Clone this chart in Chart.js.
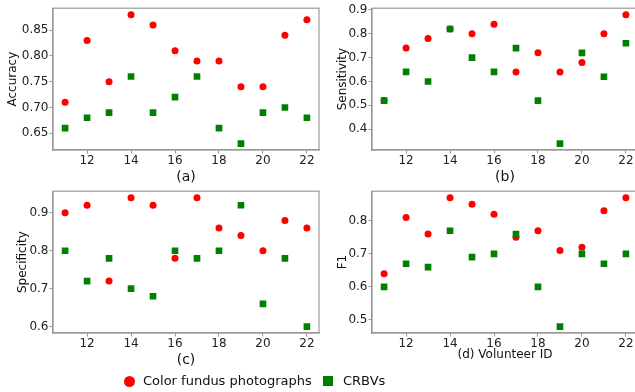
<!DOCTYPE html>
<html>
<head>
<meta charset="utf-8">
<script src="https://cdn.jsdelivr.net/npm/chart.js@4"></script>
<style>
  html, body { margin: 0; padding: 0; background: #fff; overflow: hidden; width: 635px; height: 392px; }
  canvas { position: absolute; }
  #legend { position: absolute; left: 0; top: 372px; width: 635px; height: 18px;
            font-family: "DejaVu Sans", sans-serif; font-size: 13px; color: #111; }
  #legend span { position: absolute; top: 0; line-height: 18px; white-space: nowrap; }
  .dot { width: 11px; height: 11px; border-radius: 50%; background: #ff0000; margin-top: 3.5px; }
  .sq { width: 10px; height: 10px; background: #008000; margin-top: 4px; }
</style>
</head>
<body>
<canvas id="pa" width="330" height="190" style="left:0;top:0"></canvas>
<canvas id="pb" width="330" height="190" style="left:319px;top:0"></canvas>
<canvas id="pc" width="330" height="190" style="left:0;top:183px"></canvas>
<canvas id="pd" width="330" height="190" style="left:319px;top:183px"></canvas>
<div id="legend">
  <span class="dot" style="left:123.5px"></span>
  <span style="left:143px">Color fundus photographs</span>
  <span class="sq" style="left:323px"></span>
  <span style="left:343px">CRBVs</span>
</div>
<script>
// volunteer ids (x axis)
const volunteerIds = [11, 12, 13, 14, 15, 16, 17, 18, 19, 20, 21, 22];

// (a) accuracy
const accuracyFundus = [0.71, 0.83, 0.75, 0.88, 0.86, 0.81, 0.79, 0.79, 0.74, 0.74, 0.84, 0.87];
const accuracyCrbv   = [0.66, 0.68, 0.69, 0.76, 0.69, 0.72, 0.76, 0.66, 0.63, 0.69, 0.70, 0.68];
// (b) sensitivity
const sensitivityFundus = [0.52, 0.74, 0.78, 0.82, 0.80, 0.84, 0.64, 0.72, 0.64, 0.68, 0.80, 0.88];
const sensitivityCrbv   = [0.52, 0.64, 0.60, 0.82, 0.70, 0.64, 0.74, 0.52, 0.34, 0.72, 0.62, 0.76];
// (c) specificity
const specificityFundus = [0.90, 0.92, 0.72, 0.94, 0.92, 0.78, 0.94, 0.86, 0.84, 0.80, 0.88, 0.86];
const specificityCrbv   = [0.80, 0.72, 0.78, 0.70, 0.68, 0.80, 0.78, 0.80, 0.92, 0.66, 0.78, 0.60];
// (d) F1
const f1Fundus = [0.64, 0.81, 0.76, 0.87, 0.85, 0.82, 0.75, 0.77, 0.71, 0.72, 0.83, 0.87];
const f1Crbv   = [0.60, 0.67, 0.66, 0.77, 0.69, 0.70, 0.76, 0.60, 0.48, 0.70, 0.67, 0.70];

// tick labels
const xTicks = [12, 14, 16, 18, 20, 22];
const accuracyTicks = [0.65, 0.70, 0.75, 0.80, 0.85];
const sensitivityTicks = [0.4, 0.5, 0.6, 0.7, 0.8, 0.9];
const specificityTicks = [0.6, 0.7, 0.8, 0.9];
const f1Ticks = [0.5, 0.6, 0.7, 0.8];

const spine = '#999999';
const font = 'DejaVu Sans';

const toPoints = ys => volunteerIds.map((x, i) => ({ x: x, y: ys[i] }));

// matplotlib style box around the plot area
const framePlugin = {
  id: 'frame',
  beforeDatasetsDraw(chart) {
    const a = chart.chartArea, ctx = chart.ctx;
    ctx.save();
    ctx.strokeStyle = spine;
    ctx.lineWidth = 1.2;
    ctx.strokeRect(a.left, a.top, a.right - a.left, a.bottom - a.top);
    ctx.restore();
  }
};

function panel(id, p) {
  new Chart(document.getElementById(id), {
    type: 'scatter',
    data: {
      datasets: [
        {
          label: 'CRBVs',
          data: toPoints(p.crbv),
          pointStyle: 'rect',
          pointRadius: 4.7,
          backgroundColor: '#008000',
          borderWidth: 0,
          order: 0
        },
        {
          label: 'Color fundus photographs',
          data: toPoints(p.fundus),
          pointStyle: 'circle',
          pointRadius: 3.5,
          backgroundColor: '#ff0000',
          borderWidth: 0,
          order: 1
        }
      ]
    },
    options: {
      responsive: false,
      animation: false,
      events: [],
      layout: { padding: { left: p.padLeft, top: 8, right: 11, bottom: 40 - p.xHeight } },
      plugins: { legend: { display: false }, tooltip: { enabled: false } },
      scales: {
        x: {
          type: 'linear',
          min: 10.45,
          max: 22.55,
          afterBuildTicks: s => { s.ticks = xTicks.map(v => ({ value: v })); },
          afterFit: s => { s.height = p.xHeight; },
          grid: { drawOnChartArea: false, color: spine, tickLength: 3.5 },
          border: { color: spine, width: 1.2 },
          ticks: { color: '#222', padding: 0, font: { family: font, size: 12 } },
          title: {
            display: true,
            text: p.xTitle,
            color: '#111',
            padding: 0,
            font: { family: font, size: p.xTitleSize }
          }
        },
        y: {
          min: p.yMin,
          max: p.yMax,
          afterBuildTicks: s => { s.ticks = p.yTicks.map(v => ({ value: v })); },
          afterFit: s => { s.width = 53 - p.padLeft; },
          grid: { drawOnChartArea: false, color: spine, tickLength: 3.5 },
          border: { color: spine, width: 1.2 },
          ticks: {
            color: '#222',
            padding: 1,
            font: { family: font, size: 12 },
            callback: v => v.toFixed(p.decimals)
          },
          title: {
            display: true,
            text: p.yTitle,
            color: '#111',
            padding: 0,
            font: { family: font, size: 12 }
          }
        }
      }
    },
    plugins: [framePlugin]
  });
}

panel('pa', { fundus: accuracyFundus, crbv: accuracyCrbv, yTicks: accuracyTicks, decimals: 2,
  yMin: 0.6175, yMax: 0.8925, yTitle: 'Accuracy', xTitle: '(a)', xTitleSize: 14, padLeft: 6, xHeight: 35.4 });
panel('pb', { fundus: sensitivityFundus, crbv: sensitivityCrbv, yTicks: sensitivityTicks, decimals: 1,
  yMin: 0.313, yMax: 0.907, yTitle: 'Sensitivity', xTitle: '(b)', xTitleSize: 14, padLeft: 17, xHeight: 35.4 });
panel('pc', { fundus: specificityFundus, crbv: specificityCrbv, yTicks: specificityTicks, decimals: 1,
  yMin: 0.583, yMax: 0.957, yTitle: 'Specificity', xTitle: '(c)', xTitleSize: 14, padLeft: 15.5, xHeight: 35.4 });
panel('pd', { fundus: f1Fundus, crbv: f1Crbv, yTicks: f1Ticks, decimals: 1,
  yMin: 0.4605, yMax: 0.8895, yTitle: 'F1', xTitle: '(d) Volunteer ID', xTitleSize: 12, padLeft: 17, xHeight: 29.2 });
</script>
</body>
</html>
